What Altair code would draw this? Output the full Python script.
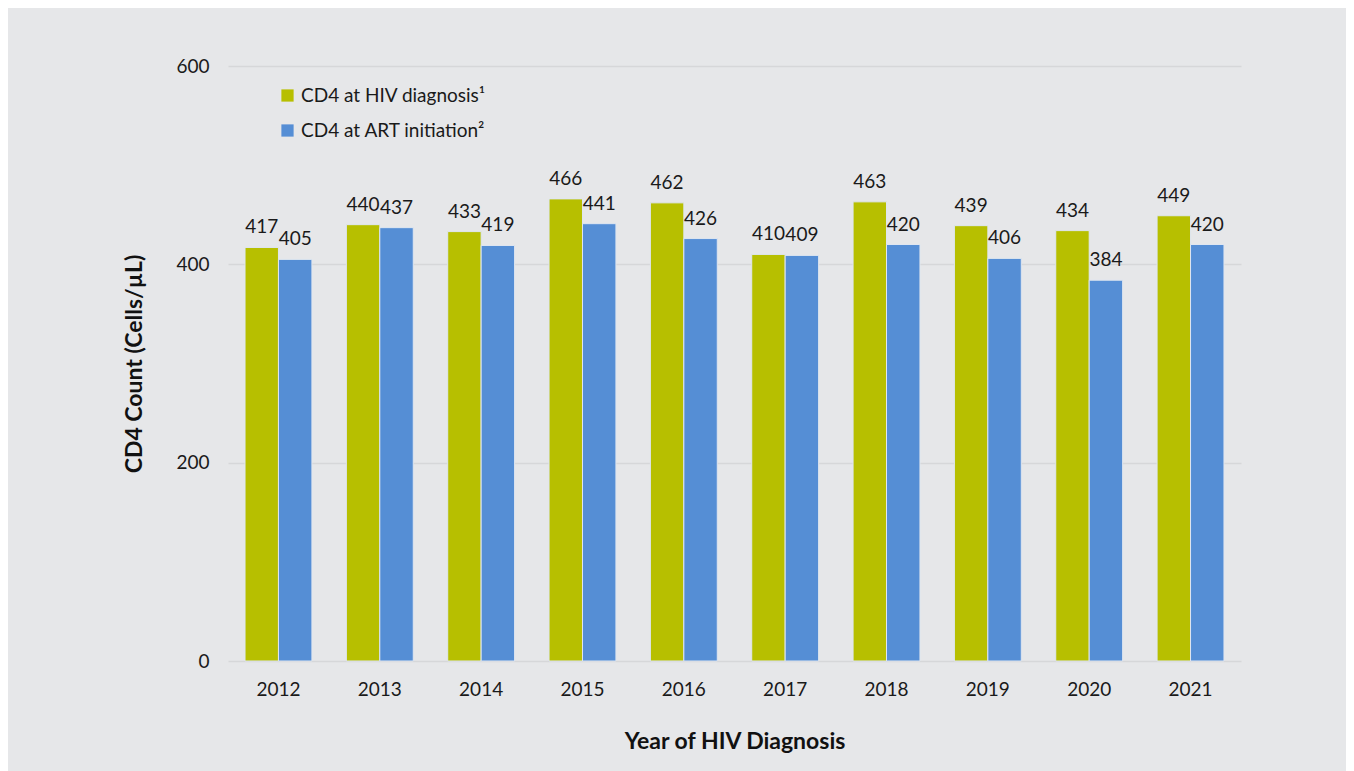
import altair as alt
import pandas as pd

years = ["2012", "2013", "2014", "2015", "2016", "2017", "2018", "2019", "2020", "2021"]
cd4_dx = [417, 440, 433, 466, 462, 410, 463, 439, 434, 449]
cd4_art = [405, 437, 419, 441, 426, 409, 420, 406, 384, 420]
series = ["CD4 at HIV diagnosis\u00b9", "CD4 at ART initiation\u00b2"]
colors = ["#B7BF00", "#558ED5"]

rows = []
for i, y in enumerate(years):
    rows.append({"year": y, "series": series[0], "value": cd4_dx[i]})
    rows.append({"year": y, "series": series[1], "value": cd4_art[i]})
df = pd.DataFrame(rows)

FONT = "Lato"

x = alt.X("year:N", title="Year of HIV Diagnosis",
          scale=alt.Scale(paddingInner=0.34, paddingOuter=0.168),
          axis=alt.Axis(labelAngle=0, labelFontSize=19, labelColor="#1a1a1a", labelPadding=19,
                        titleFontSize=23, titleFontWeight="bold", titleColor="#111111",
                        titlePadding=31, domain=False, ticks=False, labelFont=FONT, titleFont=FONT))
y = alt.Y("value:Q", title="CD4 Count (Cells/\u00b5L)",
          scale=alt.Scale(domain=[0, 600], nice=False),
          axis=alt.Axis(values=[0, 200, 400, 600], labelFontSize=19, labelColor="#1a1a1a",
                        labelPadding=19, titleFontSize=23, titleFontWeight="bold",
                        titleColor="#111111", titlePadding=29, domain=False, ticks=False,
                        gridColor="#D6D7D9", gridWidth=1.5, labelFont=FONT, titleFont=FONT))
xo = alt.XOffset("series:N", sort=series, scale=alt.Scale(paddingInner=0.0))
color = alt.Color("series:N", sort=series,
                  scale=alt.Scale(domain=series, range=colors),
                  legend=alt.Legend(title=None, orient="none", legendX=50, legendY=20,
                                    symbolType="square", symbolSize=150, symbolStrokeWidth=0,
                                    labelFontSize=19, labelColor="#1a1a1a", labelFont=FONT,
                                    labelLimit=0, rowPadding=15, labelOffset=4, symbolOpacity=1))

bars = alt.Chart(df).mark_bar(stroke="#dfe6f0", strokeWidth=1).encode(
    x=x, y=y, xOffset=xo, color=color
)
labels = alt.Chart(df).mark_text(baseline="bottom", dy=-10, fontSize=19, font=FONT, color="#1a1a1a").encode(
    x=x, y=y, xOffset=xo, text=alt.Text("value:Q")
)

chart = (bars + labels).properties(
    width=1013, height=595,
    background="#E6E7E9",
    padding={"left": 220, "top": 58, "right": 105, "bottom": 110},
    autosize=alt.AutoSizeParams(type="none"),
).configure_view(stroke=None)

chart.save("out.html", embed_options={"renderer": "svg", "actions": False})
